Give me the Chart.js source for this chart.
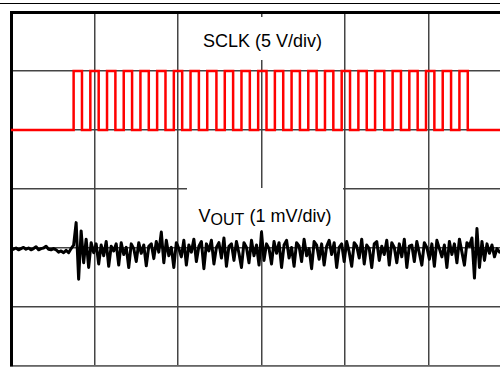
<!DOCTYPE html>
<html><head><meta charset="utf-8">
<script src="https://cdn.jsdelivr.net/npm/chart.js@4"></script>
<style>
html,body{margin:0;padding:0;background:#fff;overflow:hidden}
#wrap{position:relative;width:500px;height:367px}
#c{position:absolute;left:0;top:0}
#topline{position:absolute;left:0;top:2.5px;width:500px;height:0;border-top:1.5px solid #000}
.lbl{position:absolute;background:#fff;font-family:"Liberation Sans",Arial,sans-serif;font-size:18px;color:#000;white-space:nowrap}
.lbl span.t{position:absolute;left:0;right:0;text-align:center;line-height:18px}
.lbl sub{font-size:16px;vertical-align:-3px;line-height:0}
</style></head>
<body><div id="wrap"><canvas id="c" width="500" height="367" style="width:500px;height:367px"></canvas>
<div id="topline"></div>
<div class="lbl" style="left:190px;top:17px;width:145px;height:43px;"><span class="t" style="top:14.8px">SCLK (5 V/div)</span></div>
<div class="lbl" style="left:187px;top:188px;width:156px;height:42px;"><span class="t" style="top:18.8px">V<sub>OUT</sub> (1 mV/div)</span></div>
</div>
<script>
// Time axis in divisions
const xMax = 5.856;
const xTicks = [0, 1, 2, 3, 4, 5];

// SCLK: rising / falling edge times (div) and logic levels (V)
const sclkRise = [0.75,0.95,1.15,1.35,1.55,1.75,1.95,2.15,2.35,2.56,2.76,2.96,3.16,3.36,3.56,3.76,3.96,4.16,4.36,4.57,4.77,4.97,5.17,5.37];
const sclkFall = [0.85,1.05,1.25,1.45,1.65,1.85,2.05,2.25,2.46,2.66,2.86,3.06,3.26,3.46,3.66,3.86,4.06,4.26,4.47,4.67,4.87,5.07,5.27,5.47];
const sclkLow = 0;
const sclkHigh = 5;

// VOUT samples (mV), one every sampleStep div
const sampleStep = 0.03;
const vout = [
 0, 0.01, 0.03, 0, 0.02, 0.04, 0.01, 0.03, 0, 0.02, 0.05, 0, 0.02, 0.03, 0.06, 0.01, 0, 0.02, 0, -0.04, -0.02, -0.05, -0.01, -0.05, 0.02,
 0.08, 0.46, -0.5, 0.32, -0.22, 0.18, -0.3, 0.12, -0.05, 0.1,
 -0.24, 0.08, -0.1, 0.14, -0.28, 0.06, -0.02, 0.1, -0.26, 0.12,
 -0.08, 0.04, -0.3, 0.1, 0.02, -0.2, 0.12, -0.06, 0.08, -0.27,
 0.06, 0.1, -0.15, 0.14, -0.04, 0.3, -0.22, 0.16, -0.1, 0.04,
 -0.3, 0.12, 0.02, -0.12, 0.16, -0.26, 0.08, -0.04, 0.18, -0.2,
 0.06, 0.14, -0.32, 0.1, -0.02, 0.16, -0.24, 0.04, 0.12, -0.14,
 0.2, -0.28, 0.06, 0.1, -0.18, 0.14, -0.06, -0.3, 0.12, 0.04,
 -0.22, 0.16, -0.1, 0.08, -0.26, 0.3, -0.18, 0.1, 0.02, -0.24,
 0.14, -0.06, 0.12, -0.3, 0.08, 0.16, -0.14, 0.04, -0.28, 0.12,
 0.06, -0.2, 0.18, -0.1, 0.02, -0.32, 0.14, 0.08, -0.16, 0.1,
 -0.26, 0.06, 0.16, -0.08, 0.12, -0.3, 0.04, 0.1, -0.2, 0.14,
 -0.04, -0.28, 0.12, 0.06, -0.14, 0.18, -0.24, 0.08, 0.02, -0.3,
 0.1, 0.14, -0.18, 0.06, -0.08, 0.16, -0.26, 0.12, 0.04, -0.22,
 0.1, -0.12, 0.18, -0.3, 0.06, 0.08, -0.2, 0.14, -0.06, -0.26,
 0.12, 0.04, -0.16, 0.1, -0.28, 0.16, 0.02, -0.12, 0.08, -0.3,
 0.14, -0.08, 0.1, -0.22, 0.18, -0.04, -0.26, 0.12, 0.06, 0.2,
 -0.48, 0.36, -0.3, 0.14, -0.18, 0.1, -0.06, 0.08, -0.12, 0.02, -0.04
];

// Build point lists
const sclkPts = [{x: 0, y: sclkLow}];
sclkRise.forEach((r, i) => {
  sclkPts.push({x: r, y: sclkLow}, {x: r, y: sclkHigh}, {x: sclkFall[i], y: sclkHigh}, {x: sclkFall[i], y: sclkLow});
});
sclkPts.push({x: xMax, y: sclkLow});
const voutPts = vout.map((v, i) => ({x: i * sampleStep, y: v}));

new Chart(document.getElementById('c'), {
  type: 'line',
  data: {datasets: [
    {label: 'SCLK', data: sclkPts, borderColor: '#ff0000', borderWidth: 2.5, pointRadius: 0, tension: 0, yAxisID: 'y'},
    {label: 'VOUT', data: voutPts, borderColor: '#000000', borderWidth: 3, pointRadius: 0, tension: 0,
     borderJoinStyle: 'round', borderCapStyle: 'round', yAxisID: 'yv'}
  ]},
  options: {
    responsive: false, animation: false, events: [],
    layout: {padding: {left: 11, top: 12, right: 0, bottom: 1}},
    plugins: {legend: {display: false}, tooltip: {enabled: false}},
    scales: {
      x: {type: 'linear', position: 'bottom', min: 0, max: xMax,
          afterBuildTicks: s => { s.ticks = xTicks.map(v => ({value: v})); },
          ticks: {display: false}, grid: {color: '#444', lineWidth: 1.5, drawTicks: false},
          border: {display: true, color: '#666', width: 1.5}},
      xt: {type: 'linear', position: 'top', min: 0, max: 1,
          ticks: {display: false}, grid: {display: false, drawTicks: false},
          border: {display: true, color: '#000', width: 3}},
      y: {type: 'linear', position: 'left', min: -20, max: 10,
          ticks: {display: false, stepSize: 5}, grid: {color: '#444', lineWidth: 1.5, drawTicks: false},
          border: {display: true, color: '#000', width: 3}},
      yv: {type: 'linear', display: false, min: -1.97, max: 4.03}
    }
  }
});
</script>
</body></html>
